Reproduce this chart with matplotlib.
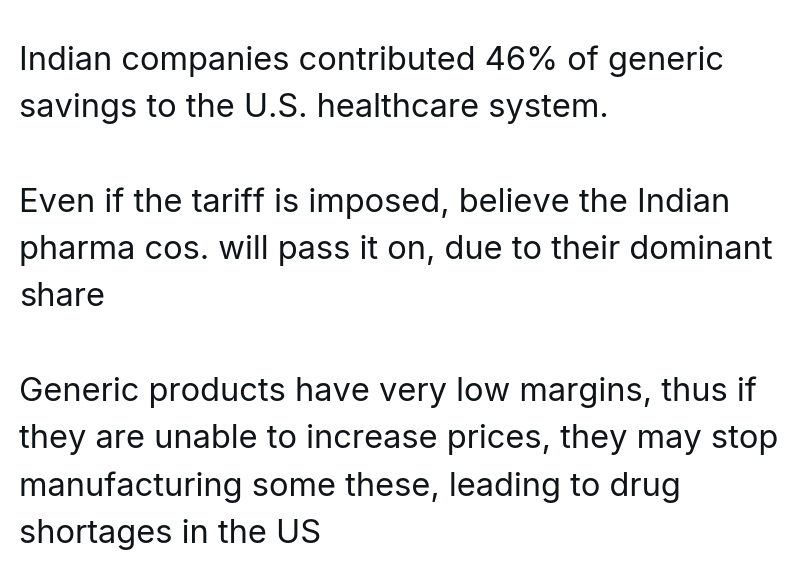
import matplotlib
matplotlib.use("Agg")
import matplotlib.pyplot as plt

# tweet text, one entry per rendered line ('' = blank line)
lines = [
    "Indian companies contributed 46% of generic",
    "savings to the U.S. healthcare system.",
    "",
    "Even if the tariff is imposed, believe the Indian",
    "pharma cos. will pass it on, due to their dominant",
    "share",
    "",
    "Generic products have very low margins, thus if",
    "they are unable to increase prices, they may stop",
    "manufacturing some these, leading to drug",
    "shortages in the US",
]

W, H = 800, 587
fig = plt.figure(figsize=(W / 100, H / 100), dpi=100)
fig.patch.set_facecolor("white")

first_baseline = 70   # px from top
line_step = 47.3      # px
left = 19

for i, s in enumerate(lines):
    if not s:
        continue
    y = first_baseline + i * line_step
    fig.text(left / W, 1 - y / H, s, ha="left", va="baseline",
             fontsize=23.5, family="Inter", color="#0f1419")

fig.savefig("out.png", dpi=100, facecolor="white")
